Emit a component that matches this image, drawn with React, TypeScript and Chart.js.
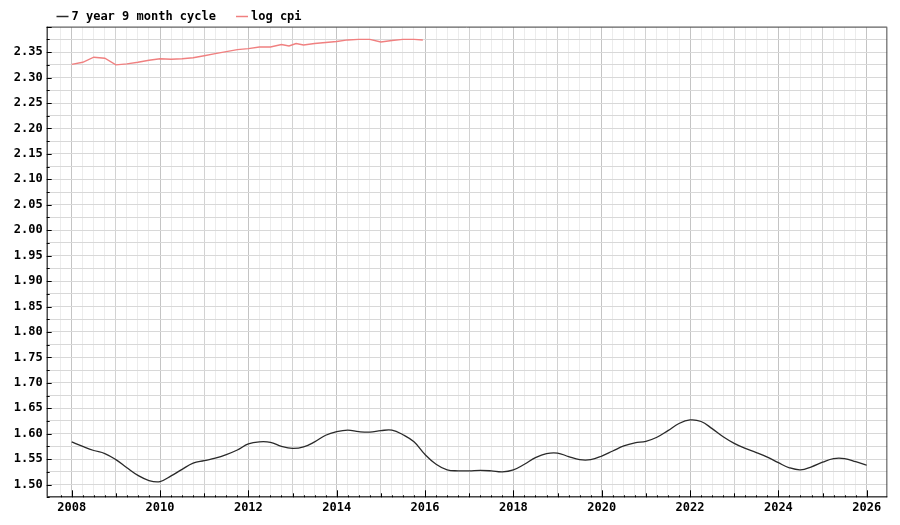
import React, { useEffect, useRef } from "react";
import { Chart, registerables } from "chart.js";

Chart.register(...registerables);

const cycleLabel = "7 year 9 month cycle";
const cpiLabel = "log cpi";

const cycleYears = [
  2008.0, 2008.25, 2008.5, 2008.75, 2009.0, 2009.25, 2009.5, 2009.75,
  2010.0, 2010.25, 2010.5, 2010.75, 2011.0, 2011.25, 2011.5, 2011.75,
  2012.0, 2012.25, 2012.5, 2012.75, 2013.0, 2013.25, 2013.5, 2013.75,
  2014.0, 2014.25, 2014.5, 2014.75, 2015.0, 2015.25, 2015.5, 2015.75,
  2016.0, 2016.25, 2016.5, 2016.75, 2017.0, 2017.25, 2017.5, 2017.75,
  2018.0, 2018.25, 2018.5, 2018.75, 2019.0, 2019.25, 2019.5, 2019.75,
  2020.0, 2020.25, 2020.5, 2020.75, 2021.0, 2021.25, 2021.5, 2021.75,
  2022.0, 2022.25, 2022.5, 2022.75, 2023.0, 2023.25, 2023.5, 2023.75,
  2024.0, 2024.25, 2024.5, 2024.75, 2025.0, 2025.25, 2025.5, 2025.75,
  2026.0,
];
const cycleValues = [
  1.584, 1.575, 1.567, 1.561, 1.549, 1.533, 1.518, 1.508,
  1.506, 1.517, 1.530, 1.542, 1.547, 1.552, 1.559, 1.568,
  1.580, 1.584, 1.583, 1.575, 1.571, 1.574, 1.584, 1.597,
  1.604, 1.607, 1.604, 1.603, 1.606, 1.607, 1.598, 1.584,
  1.559, 1.540, 1.529, 1.527, 1.527, 1.528, 1.527, 1.525,
  1.529, 1.540, 1.553, 1.561, 1.562, 1.555, 1.549, 1.549,
  1.556, 1.566, 1.576, 1.582, 1.585, 1.593, 1.606, 1.620,
  1.627, 1.624, 1.610, 1.594, 1.581, 1.571, 1.563, 1.554,
  1.543, 1.533, 1.529, 1.535, 1.544, 1.551, 1.551, 1.545,
  1.538,
];

const cpiYears = [
  2008.0, 2008.25, 2008.5, 2008.75, 2009.0, 2009.25, 2009.5, 2009.75,
  2010.0, 2010.25, 2010.5, 2010.75, 2011.0, 2011.25, 2011.5, 2011.75,
  2012.0, 2012.25, 2012.5, 2012.75, 2012.92, 2013.08, 2013.25, 2013.5,
  2013.75, 2014.0, 2014.25, 2014.5, 2014.75, 2015.0, 2015.25, 2015.5,
  2015.75, 2015.95,
];
const cpiValues = [
  2.326, 2.330, 2.340, 2.338, 2.325, 2.327, 2.330, 2.334,
  2.337, 2.336, 2.337, 2.339, 2.343, 2.347, 2.351, 2.355,
  2.357, 2.360, 2.360, 2.365, 2.362, 2.367, 2.364, 2.367,
  2.369, 2.371, 2.374, 2.375, 2.375, 2.370, 2.373, 2.375,
  2.375, 2.374,
];

const xEvenLabels = [2008, 2010, 2012, 2014, 2016, 2018, 2020, 2022, 2024, 2026];

const FONT = "'DejaVu Sans Mono', 'Liberation Mono', monospace";

const frameAndLegend = {
  id: "frameAndLegend",
  afterDraw(chart: any) {
    const { ctx, chartArea } = chart;
    const { left, right, top, bottom } = chartArea;
    ctx.save();
    ctx.strokeStyle = "#555";
    ctx.lineWidth = 1;
    ctx.beginPath();
    ctx.moveTo(left, top + 0.5);
    ctx.lineTo(right - 0.5, top + 0.5);
    ctx.lineTo(right - 0.5, bottom);
    ctx.stroke();
    ctx.strokeStyle = "#000";
    ctx.beginPath();
    ctx.moveTo(left + 0.5, top);
    ctx.lineTo(left + 0.5, bottom - 0.5);
    ctx.lineTo(right, bottom - 0.5);
    ctx.stroke();
    const xs = chart.scales.x;
    ctx.beginPath();
    xs.ticks.forEach((t: any) => {
      const v = t.value;
      const r = Math.round(v * 4) / 4;
      if (Math.abs(r - v) > 1e-6) return;
      const px = Math.round(xs.getPixelForValue(v)) + 0.5;
      let len = 2;
      if (Math.abs(v - Math.round(v)) < 1e-6) len = Math.round(v) % 2 === 0 ? 7 : 4;
      ctx.moveTo(px, bottom);
      ctx.lineTo(px, bottom - len);
    });
    ctx.stroke();
    const ys = chart.scales.y;
    ctx.beginPath();
    ys.ticks.forEach((t: any) => {
      const v = t.value;
      const py = Math.round(ys.getPixelForValue(v)) + 0.5;
      const major = Math.abs(Math.round(v * 1000) % 50) === 0;
      ctx.moveTo(left, py);
      ctx.lineTo(left + (major ? 5 : 3), py);
    });
    ctx.stroke();

    ctx.font = "bold 12px " + FONT;
    ctx.textBaseline = "middle";
    ctx.textAlign = "left";
    let x = 56.5;
    const y = 16.5;
    chart.data.datasets.forEach((ds: any) => {
      ctx.strokeStyle = ds.borderColor;
      ctx.lineWidth = 1.5;
      ctx.beginPath();
      ctx.moveTo(x, y);
      ctx.lineTo(x + 12, y);
      ctx.stroke();
      ctx.fillStyle = "#000";
      ctx.fillText(ds.label, x + 15, y);
      x += 15 + ctx.measureText(ds.label).width + 20;
    });
    ctx.restore();
  },
};

export default function App() {
  const ref = useRef<HTMLCanvasElement | null>(null);
  useEffect(() => {
    if (!ref.current) return;
    const chart = new Chart(ref.current, {
      type: "line",
      data: {
        datasets: [
          {
            label: cycleLabel,
            data: cycleYears.map((x, i) => ({ x, y: cycleValues[i] })),
            borderColor: "#2a2a2a",
            borderWidth: 1.3,
            pointRadius: 0,
            tension: 0.4,
            fill: false,
          },
          {
            label: cpiLabel,
            data: cpiYears.map((x, i) => ({ x, y: cpiValues[i] })),
            borderColor: "#f08080",
            borderWidth: 1.4,
            pointRadius: 0,
            tension: 0,
            fill: false,
          },
        ],
      },
      options: {
        animation: false,
        responsive: false,
        devicePixelRatio: 1,
        layout: { padding: { left: 0, right: 12.7, top: 26.7, bottom: 0 } },
        plugins: { legend: { display: false }, tooltip: { enabled: false } },
        scales: {
          x: {
            type: "linear",
            min: 2007.434,
            max: 2026.466,
            border: { display: false },
            afterFit: (s: any) => {
              s.height = 27.7;
            },
            grid: {
              drawTicks: false,
              color: (c: any) => {
                const v = c.tick ? c.tick.value : 0;
                if (Math.abs(v - Math.round(v)) < 1e-6) {
                  return Math.round(v) % 2 === 0 ? "#c4c4c4" : "#d2d2d2";
                }
                return "#ececec";
              },
            },
            ticks: {
              stepSize: 0.25,
              autoSkip: false,
              maxRotation: 0,
              padding: 3,
              color: "#000",
              font: { family: FONT, size: 12, weight: "bold" },
              callback: (v: any) => {
                const n = Number(v);
                const r = Math.round(n);
                return Math.abs(n - r) < 1e-6 && xEvenLabels.includes(r) ? String(r) : "";
              },
            },
          },
          y: {
            min: 1.475,
            max: 2.4,
            border: { display: false },
            afterFit: (s: any) => {
              s.width = 46.7;
            },
            grid: { drawTicks: false, color: "#d8d8d8" },
            ticks: {
              stepSize: 0.025,
              autoSkip: false,
              padding: 4,
              color: "#000",
              font: { family: FONT, size: 12, weight: "bold" },
              callback: (v: any) => {
                const n = Number(v);
                const m = Math.round(n * 1000);
                if (m % 50 !== 0 || n > 2.39 || n < 1.49) return "";
                return n.toFixed(2);
              },
            },
          },
        },
      },
      plugins: [frameAndLegend],
    });
    return () => chart.destroy();
  }, []);
  return (
    <div style={{ position: "fixed", left: 0, top: 0, width: 900, height: 525, background: "#fff" }}>
      <canvas ref={ref} width={900} height={525} />
    </div>
  );
}
